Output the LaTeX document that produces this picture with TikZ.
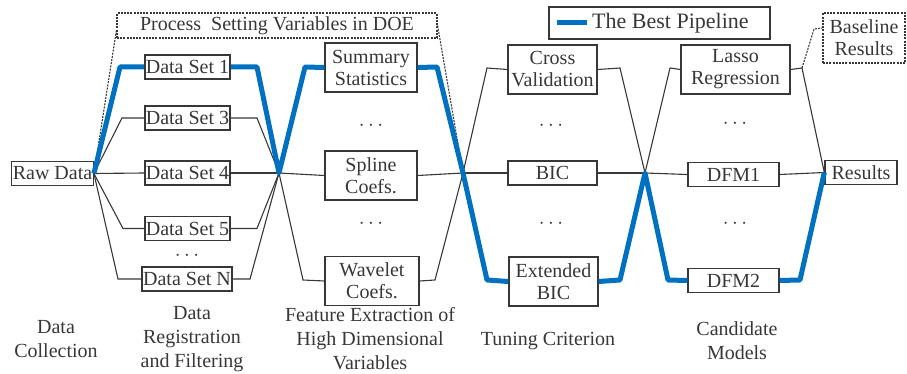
\documentclass[tikz,border=0pt]{standalone}
\usepackage{fontspec}
\setmainfont{Liberation Serif}
\definecolor{bestblue}{RGB}{0,112,192}
\definecolor{ink}{RGB}{55,55,55}
\begin{document}
\begin{tikzpicture}[x=1pt,y=-1pt,
  font=\fontsize{20}{22}\selectfont,
  box/.style={draw=ink, line width=1.4pt, inner sep=1pt, align=center,
              minimum height=24pt, text=ink},
  tall/.style={box, minimum height=49pt},
  dashbox/.style={draw=ink, line width=1.2pt, dash pattern=on 2pt off 1.2pt,
                  inner sep=1pt, align=center, text=ink},
  wire/.style={draw=ink, line width=1.1pt},
  dashwire/.style={draw=ink, line width=1.1pt, dash pattern=on 2pt off 1.2pt},
  best/.style={draw=bestblue, line width=5pt, line join=round},
  dotsn/.style={text=ink, inner sep=0pt},
  stage/.style={align=center, text=ink, inner sep=0pt,
                font=\fontsize{20}{24}\selectfont}]
\useasboundingbox (0,0) rectangle (907,374);

% ---- stage 0: raw data
\node[box, minimum width=79pt] (raw) at (52.5,173.5) {Raw Data};

% ---- stage 1: data sets
\node[box, minimum width=83pt] (d1) at (187.5,67) {Data Set 1};
\node[box, minimum width=83pt] (d3) at (187.5,118) {Data Set 3};
\node[box, minimum width=83pt] (d4) at (187.5,173) {Data Set 4};
\node[box, minimum width=83pt] (d5) at (187.5,228.5) {Data Set 5};
\node[dotsn] (dd) at (187,256) {$\cdots$};
\node[box, minimum width=88pt] (dN) at (187,279) {Data Set N};

% ---- stage 2: features
\node[tall, minimum width=92pt] (sum) at (371,67.5) {Summary\\Statistics};
\node[dotsn] (fd1) at (371,126) {$\cdots$};
\node[tall, minimum width=92pt] (spl) at (371,175.5) {Spline\\Coefs.};
\node[dotsn] (fd2) at (371,224) {$\cdots$};
\node[tall, minimum width=94pt] (wav) at (372,281) {Wavelet\\Coefs.};

% ---- stage 3: tuning criteria
\node[tall, minimum width=89pt] (cv) at (552.5,69.5) {Cross\\Validation};
\node[dotsn] (td1) at (551,126) {$\cdots$};
\node[box, minimum width=89pt] (bic) at (552.5,173) {BIC};
\node[dotsn] (td2) at (551,224) {$\cdots$};
\node[tall, minimum width=89pt] (ebic) at (553.5,281.5) {Extended\\BIC};

% ---- stage 4: candidate models
\node[tall, minimum width=109pt] (lasso) at (735.5,69.5) {Lasso\\Regression};
\node[dotsn] (md1) at (735,124) {$\cdots$};
\node[box, minimum width=91pt] (dfm1) at (733.5,174.5) {DFM1};
\node[dotsn] (md2) at (735,224) {$\cdots$};
\node[box, minimum width=91pt] (dfm2) at (733.5,280.5) {DFM2};

% ---- stage 5: results
\node[box, minimum width=72pt] (res) at (861,172.5) {Results};
\node[dashbox, minimum width=82pt, minimum height=50pt] (base) at (864,38) {Baseline\\Results};

% ---- junctions between stages
\coordinate (J0) at (raw.east);
\coordinate (J1) at (279,173);
\coordinate (J2) at (463,173);
\coordinate (J3) at (645,173);
\coordinate (J4) at (res.west);

% ---- DOE bracket
\node[dashbox, minimum width=320pt, minimum height=25pt] (proc) at (277,25.5)
  {Process\ \ Setting Variables in DOE};
\draw[dashwire] ([yshift=8pt]proc.south west) -- (J0);
\draw[dashwire] (proc.east) -- (J2);
\draw[dashwire] (802,68) -- (814,29) -- ([yshift=10pt]base.west);

% ---- legend
\node[draw=ink, line width=1.2pt, minimum width=221pt, minimum height=32pt] (leg) at (659.5,23) {};
\node[text=ink, font=\fontsize{22}{24}\selectfont, anchor=west, inner sep=0pt] (legtxt) at (592,23) {The Best Pipeline};
\draw[best] ([xshift=-35pt]legtxt.west) -- ([xshift=-5pt]legtxt.west);

% ---- ordinary connectors
\draw[wire] (J0) -- (122,118) -- (d3.west);
\draw[wire] (d3.east) -- (257,118) -- (J1);
\draw[wire] (J0) -- (d4.west);
\draw[wire] (d4.east) -- (J1);
\draw[wire] (J0) -- (123,228.5) -- (d5.west);
\draw[wire] (d5.east) -- (257,228.5) -- (J1);
\draw[wire] (J0) -- (118,279) -- (dN.west);
\draw[wire] (dN.east) -- (250,279) -- (J1);

\draw[wire] (J1) -- (spl.west);
\draw[wire] (spl.east) -- (J2);
\draw[wire] (J1) -- (303,280) -- (wav.west);
\draw[wire] (wav.east) -- (435,280) -- (J2);

\draw[wire] (J2) -- (487,68) -- (cv.west);
\draw[wire] (cv.east) -- (620,68) -- (J3);
\draw[wire] (J2) -- (bic.west);
\draw[wire] (bic.east) -- (J3);

\draw[wire] (J3) -- (670,68) -- (lasso.west);
\draw[wire] (lasso.east) -- (802,68) -- (J4);
\draw[wire] (J3) -- (dfm1.west);
\draw[wire] (dfm1.east) -- (J4);

% ---- the best pipeline
\draw[best] (J0) -- (120,67) -- (d1.west);
\draw[best] (d1.east) -- (257,67) -- (J1) -- (305,67) -- (sum.west);
\draw[best] (sum.east) -- (437,67) -- (J2) -- (487,280) -- (ebic.west);
\draw[best] (ebic.east) -- (620,280) -- (J3) -- (668,280) -- (dfm2.west);
\draw[best] (dfm2.east) -- (800,280) -- (J4);

% ---- stage captions
\node[stage] (c0) at (56,339.5) {Data\\Collection};
\node[stage] (c1) at (192,339) {Data\\Registration\\and Filtering};
\node[stage] (c2) at (370,339) {Feature Extraction of\\High Dimensional\\Variables};
\node[stage] (c3) at (548,341) {Tuning Criterion};
\node[stage] (c4) at (737,341) {Candidate\\Models};
\end{tikzpicture}
\end{document}
